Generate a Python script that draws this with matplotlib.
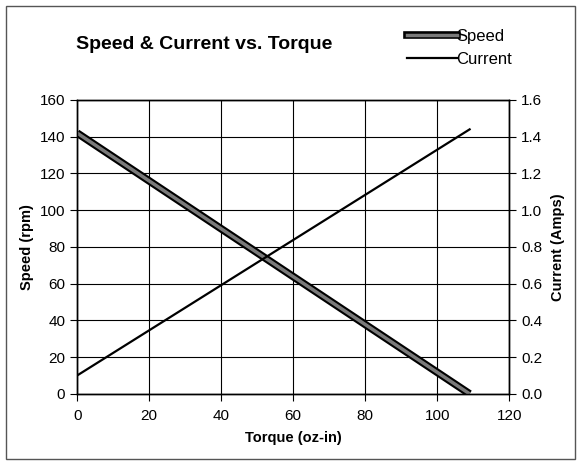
import matplotlib
matplotlib.use("Agg")
import matplotlib.pyplot as plt
from matplotlib.patches import Rectangle
from matplotlib.lines import Line2D
import matplotlib.patheffects as pe

plt.rcParams['font.family'] = ['Liberation Sans', 'DejaVu Sans']

torque = [0, 109]
speed = [142, 0]
current = [0.10, 1.44]

x_ticks = [0, 20, 40, 60, 80, 100, 120]
speed_ticks = [0, 20, 40, 60, 80, 100, 120, 140, 160]
current_ticks = [0.0, 0.2, 0.4, 0.6, 0.8, 1.0, 1.2, 1.4, 1.6]

fig = plt.figure(figsize=(5.8, 4.65), dpi=100)
fig.patches.append(Rectangle((0.010, 0.012), 0.982, 0.975, transform=fig.transFigure,
                             fill=False, edgecolor='#555555', lw=1.0))

ax = fig.add_axes([0.133, 0.153, 0.745, 0.632])
ax2 = ax.twinx()

ax.set_xlim(0, 120)
ax.set_ylim(0, 160)
ax2.set_ylim(0, 1.6)
ax.set_xticks(x_ticks)
ax.set_yticks(speed_ticks)
ax2.set_yticks(current_ticks)
ax2.set_yticklabels([f"{v:.1f}" for v in current_ticks])

ax.grid(True, color='black', lw=0.8)
ax.set_axisbelow(True)
for a in (ax, ax2):
    for s in a.spines.values():
        s.set_color('black')
        s.set_linewidth(1.0)
    a.tick_params(labelsize=11, length=5, width=0.8, color='black')
ax.tick_params(axis='x', pad=6)

# Speed: gray line with black edge
ax.plot(torque, speed, color='black', lw=5.5, solid_capstyle='butt', zorder=3)
ax.plot(torque, speed, color='#7a7a7a', lw=2.5, solid_capstyle='butt', zorder=4)
# Current
ax2.plot(torque, current, color='black', lw=1.6, zorder=3)

ax.set_xlabel('Torque (oz-in)', fontsize=10.5, fontweight='bold', labelpad=6)
ax.set_ylabel('Speed (rpm)', fontsize=10.5, fontweight='bold', labelpad=4)
ax2.set_ylabel('Current (Amps)', fontsize=10.5, fontweight='bold', labelpad=6)

fig.text(0.352, 0.905, 'Speed & Current vs. Torque', fontsize=14, fontweight='bold',
         ha='center', va='center')

# Legend
leg = fig.legend(handles=[Line2D([], [], color='#7a7a7a', lw=2.5),
                          Line2D([], [], color='black', lw=1.6)],
                 labels=['Speed', 'Current'],
                 loc='upper left', bbox_to_anchor=(0.675, 0.97), frameon=False,
                 fontsize=12, handlelength=3.0, handletextpad=0.0, labelspacing=0.5)
leg.get_lines()[0].set_path_effects([pe.Stroke(linewidth=5.5, foreground='black'), pe.Normal()])

fig.savefig('out.png', dpi=100)
